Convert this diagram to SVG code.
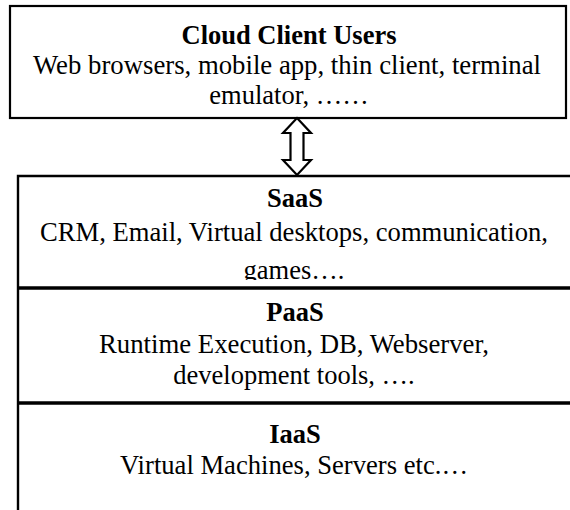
<svg xmlns="http://www.w3.org/2000/svg" width="570" height="510" viewBox="0 0 570 510">
<style>
.t{font-family:"Liberation Serif","Times New Roman",serif;font-size:26.5px;fill:#000;text-anchor:middle}
.b{font-weight:bold}
.box{fill:#fff;stroke:#000;stroke-width:2.2}
.div{stroke:#000;stroke-width:3.5;fill:none}
.arr{fill:#fff;stroke:#000;stroke-width:2.2;stroke-linejoin:miter}
</style>
<defs>
<clipPath id="saasClip"><rect x="0" y="176" width="570" height="104"/></clipPath>
</defs>
<rect width="570" height="510" fill="#fff"/>
<g id="client">
<rect class="box" x="10" y="6" width="556" height="112"/>
<text class="t b" x="289" y="44">Cloud Client Users</text>
<text class="t" x="287" y="74" textLength="508" lengthAdjust="spacingAndGlyphs">Web browsers, mobile app, thin client, terminal</text>
<text class="t" x="289" y="104">emulator, ……</text>
</g>
<g id="connectors">
<polygon class="arr" points="297,118 311,133 303.5,133 303.5,160 311,160 297,175 283,160 290.5,160 290.5,133 283,133"/>
</g>
<g id="stack">
<path d="M18,510 V176 H572" fill="none" stroke="#000" stroke-width="2.4"/>
</g>
<g id="saas">
<text class="t b" x="295" y="207">SaaS</text>
<text class="t" x="294" y="241" textLength="508" lengthAdjust="spacingAndGlyphs">CRM, Email, Virtual desktops, communication,</text>
<text class="t" x="294" y="279" clip-path="url(#saasClip)">games….</text>
</g>
<g id="paas">
<line class="div" x1="18" y1="288" x2="572" y2="288"/>
<text class="t b" x="295" y="321">PaaS</text>
<text class="t" x="294" y="353" textLength="390" lengthAdjust="spacingAndGlyphs">Runtime Execution, DB, Webserver,</text>
<text class="t" x="294" y="384">development tools, ….</text>
</g>
<g id="iaas">
<line class="div" x1="18" y1="403" x2="572" y2="403"/>
<text class="t b" x="295" y="443">IaaS</text>
<text class="t" x="294" y="474" textLength="348" lengthAdjust="spacingAndGlyphs">Virtual Machines, Servers etc.…</text>
</g>
</svg>
